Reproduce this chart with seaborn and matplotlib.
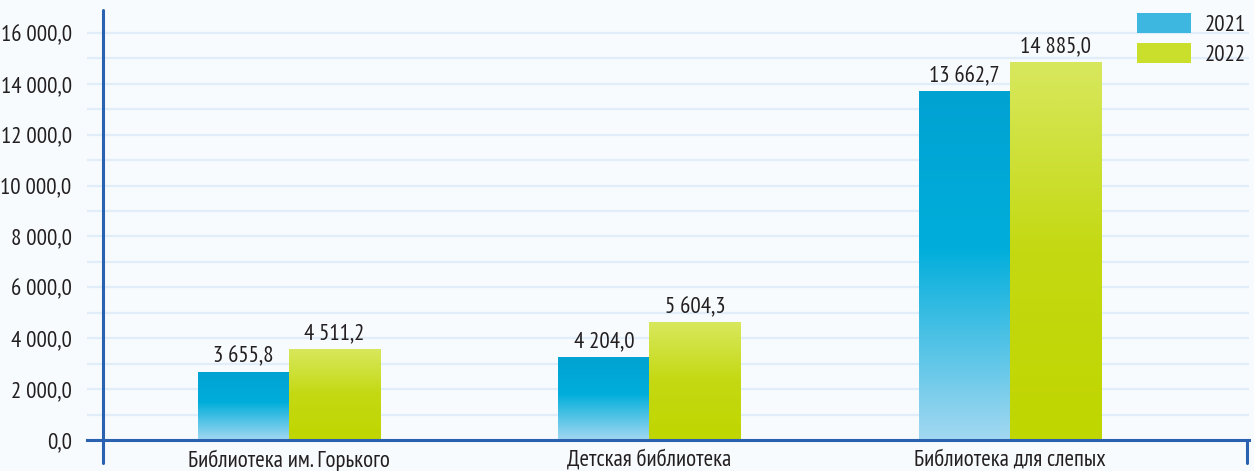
import numpy as np
import pandas as pd
import matplotlib
matplotlib.use("Agg")
import matplotlib.pyplot as plt
from matplotlib.colors import LinearSegmentedColormap
from matplotlib.ticker import MultipleLocator, FuncFormatter
import seaborn as sns

# data
libraries = ["Библиотека им. Горького", "Детская библиотека", "Библиотека для слепых"]
years = ["2021", "2022"]
values_2021 = [2690, 3265, 13700]
values_2022 = [3580, 4640, 14870]
labels_2021 = ["3 655,8", "4 204,0", "13 662,7"]
labels_2022 = ["4 511,2", "5 604,3", "14 885,0"]

df = pd.DataFrame({
    "library": libraries * 2,
    "year": [years[0]] * 3 + [years[1]] * 3,
    "value": values_2021 + values_2022,
})

sns.set_style("white")
plt.rcParams['font.family'] = ['PT Sans Narrow', 'DejaVu Sans']

bg = "#f7fbfe"
axis_blue = "#2a62b0"
grid_col = "#e1edf8"
text_col = "#231f20"
fs = 16.5

fig = plt.figure(figsize=(12.54, 4.71), dpi=100, facecolor=bg)
# axes in pixel terms: left 87, right 1249, bottom 440, top 10
ax = fig.add_axes([87 / 1254, (471 - 440) / 471, (1249 - 87) / 1254, (440 - 10) / 471])
ax.set_facecolor(bg)

sns.barplot(data=df, x="library", y="value", hue="year", ax=ax, width=0.505,
            palette=["#00a6d6", "#c6da1a"], saturation=1, errorbar=None,
            linewidth=0, legend=True)

# gradient fill on bars
blue_cmap = LinearSegmentedColormap.from_list("b", [(0, "#a3d8f1"), (0.55, "#00aedb"), (1, "#00a2d2")])
green_cmap = LinearSegmentedColormap.from_list("g", [(0, "#c0d600"), (0.5, "#c4d912"), (1, "#d8e85e")])
grad = np.linspace(0, 1, 256).reshape(-1, 1)
for container, cmap in zip(ax.containers, [blue_cmap, green_cmap]):
    for bar in container:
        x0, y0 = bar.get_x(), bar.get_y()
        w, h = bar.get_width(), bar.get_height()
        im = ax.imshow(grad, cmap=cmap, origin="lower", aspect="auto",
                       extent=[x0, x0 + w, y0, y0 + h], zorder=bar.get_zorder() + 0.1)
        im.set_clip_path(bar)

ax.set_xlim(-0.56, 2.663)
ax.set_ylim(0, 16900)

# value labels
for container, labels in zip(ax.containers, [labels_2021, labels_2022]):
    ax.bar_label(container, labels=labels, padding=3, fontsize=fs, color=text_col)

# grid
ax.yaxis.set_major_locator(MultipleLocator(2000))
ax.yaxis.set_minor_locator(MultipleLocator(1000))
ax.grid(True, axis="y", which="both", color=grid_col, linewidth=1.6)
ax.set_axisbelow(True)

ax.yaxis.set_major_formatter(FuncFormatter(lambda v, p: f"{v:,.1f}".replace(",", " ").replace(".", ",")))
ax.tick_params(axis="y", which="both", length=0, pad=11, labelsize=fs, labelcolor=text_col)
ax.tick_params(axis="x", which="major", length=0, pad=7, labelsize=fs, labelcolor=text_col)
ax.set_xticks([0.5, 1.5], minor=True)
ax.tick_params(axis="x", which="minor", direction="out", length=16, width=2, color=axis_blue)
ax.set_xlabel("")
ax.set_ylabel("")

for side in ["top", "right", "left"]:
    ax.spines[side].set_visible(False)
ax.spines["bottom"].set_color(axis_blue)
ax.spines["bottom"].set_linewidth(2.2)

# vertical axis line, set a bit to the right of the axes edge
ax.plot([16 / 1162, 16 / 1162], [-23 / 430, 1.0], transform=ax.transAxes,
        color=axis_blue, linewidth=2.2, clip_on=False, zorder=5)
ax.plot([0.9983, 0.9983], [-23 / 430, 0], transform=ax.transAxes,
        color=axis_blue, linewidth=2.2, clip_on=False, zorder=5)

# legend
handles, _ = ax.get_legend_handles_labels()
handles[0].set_facecolor("#3db6e0")
handles[1].set_facecolor("#cadf2c")
ax.legend(handles, years, loc="upper right", bbox_to_anchor=(1.0, 1.0), frameon=False,
          fontsize=fs, handlelength=2.36, handleheight=1.0, handletextpad=0.6,
          labelspacing=0.3, borderpad=0.12, borderaxespad=0.0, labelcolor=text_col)

fig.savefig("out.png", dpi=100, facecolor=bg)
